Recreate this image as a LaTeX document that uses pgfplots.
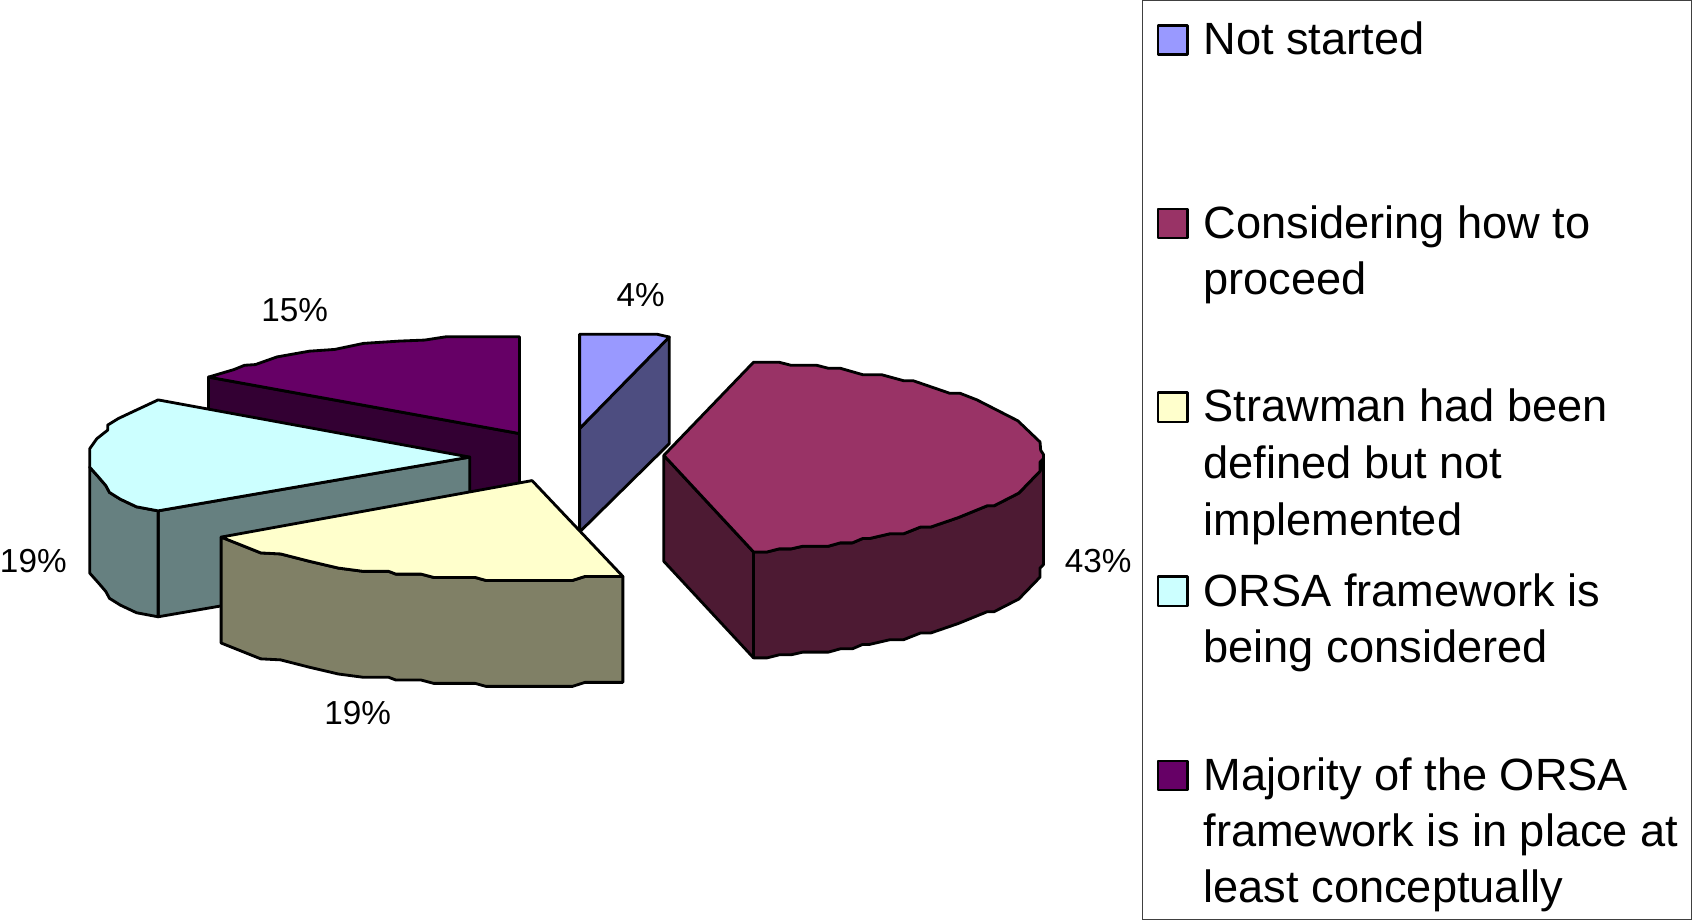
\documentclass[border=0pt]{standalone}
\usepackage{fontspec}
\setmainfont{Liberation Sans}
\usepackage{pgfplots}
\pgfplotsset{compat=1.18}
\definecolor{cBlue}{HTML}{9999FF}
\definecolor{cBlueD}{HTML}{4D4D80}
\definecolor{cMar}{HTML}{993366}
\definecolor{cMarD}{HTML}{4D1A33}
\definecolor{cYel}{HTML}{FFFFCC}
\definecolor{cYelD}{HTML}{808066}
\definecolor{cCya}{HTML}{CCFFFF}
\definecolor{cCyaD}{HTML}{668080}
\definecolor{cPur}{HTML}{660066}
\definecolor{cPurD}{HTML}{330033}
\pgfplotsset{slice/.style={draw=black,line width=2.8pt,line join=round,mark=none}}
\begin{document}
\begin{tikzpicture}
\begin{axis}[scale only axis,width=1692pt,height=919pt,xmin=0,xmax=1692,ymin=0,ymax=919,y dir=reverse,
  hide axis,clip=false,
  nodes={inner sep=0pt,outer sep=0pt}]
% Majority (15%)
\addplot[slice,fill=cPurD] coordinates {(215.7,380.7)(523.9,436.7)(523.9,542)(215.7,486)} --cycle;
\addplot[slice,fill=cPur] coordinates {(215.7,380.7)(240.7,373.3)(251.4,369)(262.1,368.3)(283.6,360.7)(315.7,355)(340.7,353.3)(369.3,347.3)(405,345)(430,344)(451.4,340.7)(523.9,340.7)(523.9,436.7)} --cycle;
% ORSA considered (19%)
\addplot[slice,fill=cCyaD] coordinates {(165.7,513.3)(474.6,460)(474.6,565)(165.7,618.3)} --cycle;
\addplot[slice,fill=cCyaD] coordinates {(97.9,470)(106.8,480)(113.9,488.3)(117.5,495)(128.2,501.7)(144.3,509.3)(165.7,513.3)(165.7,618.3)(144.3,614.3)(128.2,606.7)(117.5,600)(113.9,593.3)(106.8,585)(97.9,575)} --cycle;
\addplot[slice,fill=cCya] coordinates {(165.7,403.3)(144.3,413.3)(126.4,421.7)(115.7,428.3)(115.7,433.3)(105,441.7)(97.9,451.7)(97.9,470)(106.8,480)(113.9,488.3)(117.5,495)(128.2,501.7)(144.3,509.3)(165.7,513.3)(474.6,460)} --cycle;
% Not started (4%)
\addplot[slice,fill=cBlueD] coordinates {(583.5,431.7)(672.4,341)(672.4,446.7)(583.5,534.3)} --cycle;
\addplot[slice,fill=cBlue] coordinates {(583.5,338.3)(660.6,338.3)(672.4,341)(583.5,431.7)} --cycle;
% Considering (43%)
\addplot[slice,fill=cMarD] coordinates {(667,458.3)(755.9,554)(755.9,659)(667,563.3)} --cycle;
\addplot[slice,fill=cMarD] coordinates {(755.9,554)(769.5,554)(781.3,551)(793.1,551)(805,548.3)(830.3,548.3)(842.1,545)(854,545)(864.1,540.7)(870.9,540.7)(891.2,536)(904.7,536)(921.6,529.3)(931.7,529.3)(958.8,520)(987.5,508.3)(994.3,508.3)(1018.9,495.7)(1039.9,474)(1043.3,461.7)(1043.3,566.7)(1039.9,570)(1039.9,579)(1018.9,600.7)(994.3,613.3)(987.5,613.3)(958.8,625)(931.7,634.3)(921.6,634.3)(904.7,641)(891.2,641)(870.9,645.7)(864.1,645.7)(854,650)(842.1,650)(830.3,653.3)(805,653.3)(793.1,656)(781.3,656)(769.5,659)(755.9,659)} --cycle;
\addplot[slice,fill=cMar] coordinates {(755.9,366)(781.3,366)(793.1,369)(818.5,369)(830.3,372)(842.1,372)(864.1,378.3)(882.7,378.3)(904.7,384.3)(914.2,384.3)(950.3,396.7)(960.5,396.7)(977.4,403.3)(1017.9,424)(1039.9,445)(1040.6,453.3)(1043.3,457.3)(1043.3,461.7)(1039.9,465)(1039.9,474)(1018.9,495.7)(994.3,508.3)(987.5,508.3)(958.8,520)(931.7,529.3)(921.6,529.3)(904.7,536)(891.2,536)(870.9,540.7)(864.1,540.7)(854,545)(842.1,545)(830.3,548.3)(805,548.3)(793.1,551)(781.3,551)(769.5,554)(755.9,554)(667,458.3)} --cycle;
% Strawman (19%)
\addplot[slice,fill=cYelD] coordinates {(228.2,539.3)(267.5,555)(287.1,556)(315.7,563.3)(344.3,570)(369.3,573.3)(394.3,573.3)(401.4,576)(426.4,576)(438.9,579.3)(480,579.3)(490.7,582.3)(576.4,582.3)(588.9,578.3)(626.4,578.3)(626.4,683.3)(588.9,683.3)(576.4,687.3)(490.7,687.3)(480,684.3)(438.9,684.3)(426.4,681)(401.4,681)(394.3,678.3)(369.3,678.3)(344.3,675)(315.7,668.3)(287.1,661)(267.5,660)(228.2,644.3)} --cycle;
\addplot[slice,fill=cYel] coordinates {(228.2,539.3)(267.5,555)(287.1,556)(315.7,563.3)(344.3,570)(369.3,573.3)(394.3,573.3)(401.4,576)(426.4,576)(438.9,579.3)(480,579.3)(490.7,582.3)(576.4,582.3)(588.9,578.3)(626.4,578.3)(536.4,483.3)} --cycle;
% Data labels
\pgfplotsset{every axis plot/.append style={}}
\node[anchor=base,font=\fontsize{33}{40}\selectfont] at (axis cs:644,311) {4\%};
\node[anchor=base,font=\fontsize{33}{40}\selectfont] at (axis cs:301,326) {15\%};
\node[anchor=base,font=\fontsize{33}{40}\selectfont] at (axis cs:1097.5,574) {43\%};
\node[anchor=base,font=\fontsize{33}{40}\selectfont] at (axis cs:42,574) {19\%};
\node[anchor=base,font=\fontsize{33}{40}\selectfont] at (axis cs:363.6,725) {19\%};
% Legend box
\addplot[draw=black!75,line width=1.2pt,mark=none] coordinates {(1141.8,7.5)(1685.6,7.5)(1685.6,918)(1141.8,918)} --cycle;
% Legend swatches
\addplot[slice,line width=2.4pt,fill=cBlue] coordinates {(1157,32)(1186,32)(1186,61)(1157,61)} --cycle;
\addplot[slice,line width=2.4pt,fill=cMar] coordinates {(1157,214)(1186,214)(1186,243)(1157,243)} --cycle;
\addplot[slice,line width=2.4pt,fill=cYel] coordinates {(1157,396)(1186,396)(1186,425)(1157,425)} --cycle;
\addplot[slice,line width=2.4pt,fill=cCya] coordinates {(1157,578.5)(1186,578.5)(1186,607.5)(1157,607.5)} --cycle;
\addplot[slice,line width=2.4pt,fill=cPur] coordinates {(1157,761)(1186,761)(1186,790)(1157,790)} --cycle;
% Legend text
\newcommand{\lt}[2]{\node[anchor=base west,font=\fontsize{44.8}{54}\selectfont] at (axis cs:1202,#1) {#2};}
\lt{61}{Not started}
\lt{243.3}{Considering how to}
\lt{299}{proceed}
\lt{425}{Strawman had been}
\lt{481.7}{defined but not}
\lt{537.3}{implemented}
\lt{608.3}{ORSA framework is}
\lt{663.3}{being considered}
\lt{790}{Majority of the ORSA}
\lt{846}{framework is in place at}
\lt{901.7}{least conceptually}
\end{axis}
\end{tikzpicture}
\end{document}
